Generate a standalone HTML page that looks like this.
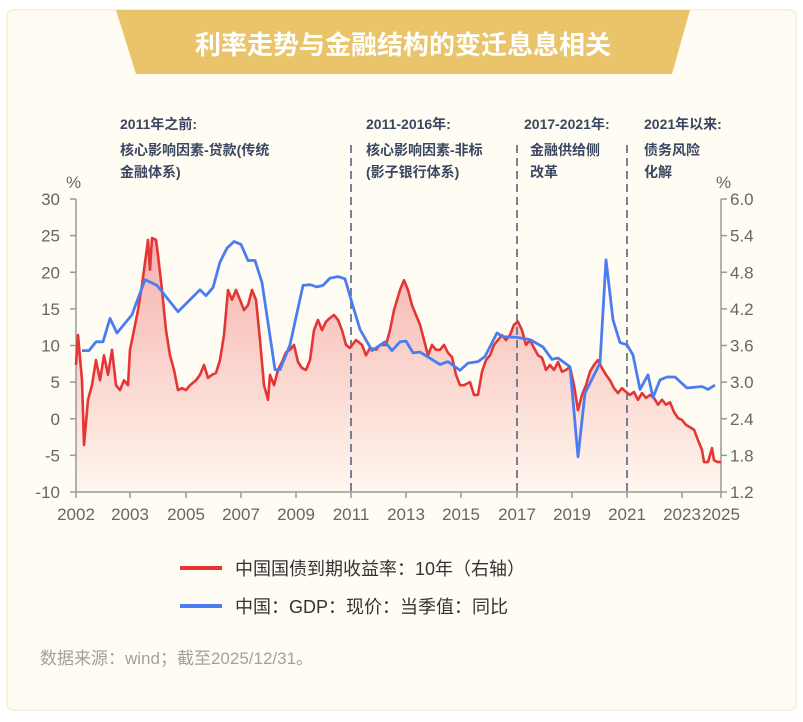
<!DOCTYPE html>
<html><head><meta charset="utf-8"><style>
body{margin:0;background:#fff;font-family:"Liberation Sans","Noto Sans CJK SC",sans-serif;}
#wrap{position:relative;width:803px;height:722px;overflow:hidden;}
</style></head><body>
<div id="wrap">
<svg id="svg" width="803" height="722" xmlns="http://www.w3.org/2000/svg">
<defs><linearGradient id="rg" x1="0" y1="0" x2="0" y2="1"><stop offset="0" stop-color="#e8383a" stop-opacity="0.38"/><stop offset="1" stop-color="#e8383a" stop-opacity="0.03"/></linearGradient></defs>
<rect x="7" y="10" width="789" height="700" rx="6" fill="#fffcf3" stroke="#f8ecd4" stroke-width="1.5"/>
<polygon points="116,10 690,10 672,74 136,74" fill="#e9c46a"/>
<text x="403" y="54" text-anchor="middle" font-size="26" font-weight="bold" fill="#fff" font-family="Liberation Sans,Noto Sans CJK SC,sans-serif">利率走势与金融结构的变迁息息相关</text>
<g font-size="14" font-weight="bold" fill="#3b4660" font-family="Liberation Sans,Noto Sans CJK SC,sans-serif">
<text x="120" y="129">2011年之前:</text>
<text x="120" y="155">核心影响因素-贷款(传统</text>
<text x="120" y="177">金融体系)</text>
<text x="366" y="129">2011-2016年:</text>
<text x="366" y="155">核心影响因素-非标</text>
<text x="366" y="177">(影子银行体系)</text>
<text x="524" y="129">2017-2021年:</text>
<text x="530" y="155">金融供给侧</text>
<text x="530" y="177">改革</text>
<text x="644" y="129">2021年以来:</text>
<text x="644" y="155">债务风险</text>
<text x="644" y="177">化解</text>
</g>
<text x="66" y="188" font-size="17" fill="#666">%</text>
<text x="716" y="188" font-size="17" fill="#666">%</text>
<g id="plot"></g>
<g>
<line x1="180" y1="568" x2="222" y2="568" stroke="#e53535" stroke-width="4"/>
<text x="235" y="575" font-size="18" fill="#333">中国国债到期收益率：10年（右轴）</text>
<line x1="180" y1="606" x2="222" y2="606" stroke="#4a7ef0" stroke-width="4"/>
<text x="235" y="613" font-size="18" fill="#333">中国：GDP：现价：当季值：同比</text>
</g>
<text x="40" y="664" font-size="17" fill="#a0a0a0">数据来源：wind；截至2025/12/31。</text>
</svg>
</div>
<script>
// x in time index units (axis spans 0..645)
const xTickLabels=["2002","2003","2005","2007","2009","2011","2013","2015","2017","2019","2021","2023","2025"];
const xTickPos=[0,54,110,165,220,275,330,385,441,496,551,606,645];
const leftTicks=[30,25,20,15,10,5,0,-5,-10];
const rightTicks=["6.0","5.4","4.8","4.2","3.6","3.0","2.4","1.8","1.2"];
const periodDividers=[275,441,551];
const yieldT=[0,2,6,8,12,16,20,24,28,32,36,40,44,48,52,54,58,62,66,70,72,74,76,80,82,86,90,94,98,102,106,110,114,120,124,128,132,136,140,144,148,152,156,160,164,168,172,176,180,184,188,192,194,198,202,206,210,214,218,222,226,230,234,238,242,246,250,254,258,262,266,270,274,280,286,290,294,300,304,310,314,318,324,328,332,336,340,344,348,352,356,360,364,368,372,376,380,384,388,394,398,402,406,410,414,418,422,426,430,434,438,442,446,450,454,458,462,466,470,474,478,482,486,490,494,498,502,506,510,514,518,522,526,530,534,538,542,546,550,554,558,562,566,570,574,578,582,586,590,594,598,602,606,610,614,618,622,626,628,632,636,638,642,645];
const yieldV=[3.28,3.77,3.03,1.97,2.71,2.95,3.36,3.03,3.44,3.12,3.53,2.95,2.87,3.03,2.95,3.53,3.85,4.18,4.59,5.08,5.33,4.84,5.36,5.33,5.08,4.51,3.85,3.44,3.2,2.87,2.90,2.87,2.95,3.03,3.12,3.28,3.07,3.12,3.15,3.36,3.77,4.51,4.35,4.51,4.35,4.18,4.26,4.51,4.35,3.69,2.95,2.71,3.12,2.95,3.2,3.33,3.49,3.53,3.61,3.33,3.23,3.2,3.36,3.85,4.02,3.85,3.99,4.05,4.1,4.02,3.85,3.61,3.56,3.69,3.61,3.44,3.56,3.53,3.61,3.61,3.85,4.18,4.51,4.67,4.51,4.26,4.1,3.94,3.69,3.44,3.61,3.53,3.53,3.61,3.48,3.41,3.12,2.95,2.95,3.0,2.79,2.79,3.17,3.36,3.44,3.61,3.69,3.77,3.69,3.77,3.94,3.99,3.85,3.61,3.69,3.56,3.44,3.4,3.2,3.28,3.2,3.33,3.17,3.2,3.25,2.95,2.54,2.79,2.95,3.17,3.28,3.36,3.23,3.12,3.03,2.90,2.82,2.90,2.84,2.79,2.84,2.71,2.82,2.74,2.79,2.74,2.63,2.71,2.63,2.67,2.51,2.41,2.38,2.30,2.26,2.22,2.05,1.89,1.69,1.69,1.92,1.72,1.69,1.69];
const gdpT=[6,13,20,27,34,41,56,69,81,102,124,130,137,144,151,158,165,172,179,186,199,204,214,227,234,241,247,254,262,269,276,284,296,309,316,324,330,337,344,364,372,384,392,402,409,421,427,441,454,467,476,482,494,502,509,524,530,537,544,551,557,564,572,577,584,591,599,611,626,632,639],
gdpV=[9.3,9.3,10.5,10.5,13.7,11.7,14.2,19.0,18.2,14.6,17.6,16.8,17.9,21.4,23.3,24.2,23.8,21.6,21.6,18.6,6.7,6.7,10.1,18.2,18.3,18.0,18.2,19.2,19.4,19.1,15.8,12.2,9.3,10.5,9.3,10.5,10.6,9.0,9.1,7.4,7.8,6.6,7.6,7.8,8.5,11.7,11.2,11.1,10.8,9.8,8.1,8.3,7.1,-5.2,3.5,7.6,21.7,13.5,10.4,10.1,8.7,4.0,6.0,2.9,5.3,5.7,5.7,4.2,4.4,4.0,4.6];
const X0=76,X1=721,Y0=492,Y1=199;
const xs=t=>X0+(X1-X0)*t/645;
const yL=v=>Y0-(v+10)/40*(Y0-Y1);
const yR=v=>Y0-(v-1.2)/4.8*(Y0-Y1);
const NS="http://www.w3.org/2000/svg";
const plot=document.getElementById('plot');
function mk(tag,attrs,parent){const e=document.createElementNS(NS,tag);for(const k in attrs)e.setAttribute(k,attrs[k]);(parent||plot).appendChild(e);return e;}
// area
let d="M"+xs(yieldT[0])+","+Y0;
yieldT.forEach((t,i)=>{d+=" L"+xs(t).toFixed(1)+","+yR(yieldV[i]).toFixed(1);});
d+=" L"+xs(yieldT[yieldT.length-1])+","+Y0+" Z";
const area=mk('path',{d:d,fill:'url(#rg)'});


// axes
const la=mk('line',{x1:X0,y1:Y1,x2:X0,y2:Y0,stroke:'#999','stroke-width':1.5});


const ra=mk('line',{x1:X1,y1:Y1,x2:X1,y2:Y0,stroke:'#999','stroke-width':1.5});


const xa=mk('line',{x1:X0,y1:Y0,x2:X1,y2:Y0,stroke:'#999','stroke-width':1.5});


leftTicks.forEach(v=>{const y=yL(v);
 const tk=mk('line',{x1:X0-6,y1:y,x2:X0,y2:y,stroke:'#999','stroke-width':1.5});
 
 
 const tx=mk('text',{x:X0-16,y:y+6,'text-anchor':'end','font-size':17,fill:'#666'});tx.textContent=v;
 
 });
rightTicks.forEach(s=>{const y=yR(parseFloat(s));
 const tk=mk('line',{x1:X1,y1:y,x2:X1+6,y2:y,stroke:'#999','stroke-width':1.5});
 
 
 const tx=mk('text',{x:X1+9,y:y+6,'font-size':17,fill:'#666'});tx.textContent=s;
 
 });
xTickLabels.forEach((s,i)=>{const x=xs(xTickPos[i]);
 const tk=mk('line',{x1:x,y1:Y0,x2:x,y2:Y0+6,stroke:'#999','stroke-width':1.5});
 
 
 const tx=mk('text',{x:x,y:Y0+28,'text-anchor':'middle','font-size':17,fill:'#666'});tx.textContent=s;
 
 });
periodDividers.forEach(t=>{const x=xs(t);
 const ln=mk('line',{x1:x,y1:145,x2:x,y2:Y0,stroke:'#56647f','stroke-width':1.6,'stroke-dasharray':'8,5'});
 
 });
// lines
const rp=mk('polyline',{points:yieldT.map((t,i)=>xs(t).toFixed(1)+","+yR(yieldV[i]).toFixed(1)).join(" "),fill:'none',stroke:'#e53535','stroke-width':2.6,'stroke-linejoin':'round'});


const bp=mk('polyline',{points:gdpT.map((t,i)=>xs(t).toFixed(1)+","+yL(gdpV[i]).toFixed(1)).join(" "),fill:'none',stroke:'#4a7ef0','stroke-width':2.8,'stroke-linejoin':'round'});


</script>
</body></html>
